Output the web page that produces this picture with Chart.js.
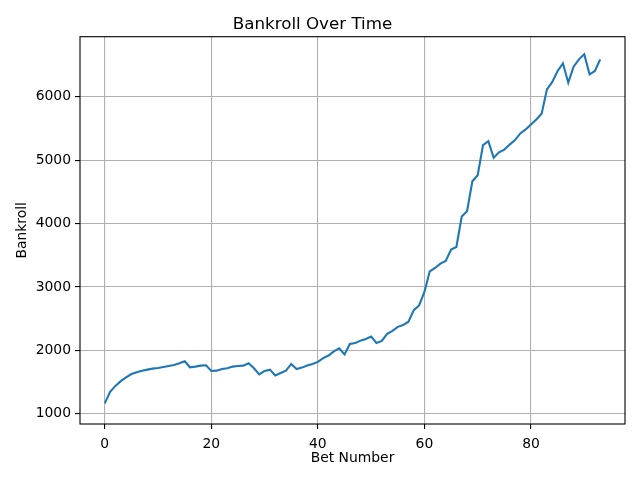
<!DOCTYPE html>
<html>
<head>
<meta charset="utf-8">
<script src="https://cdn.jsdelivr.net/npm/chart.js@4/dist/chart.umd.min.js"></script>
<style>
  html, body { margin: 0; padding: 0; background: #fff; }
</style>
</head>
<body>
<canvas id="bankrollChart" width="640" height="480"></canvas>
<script>
// values
var bankroll = [
  1165, 1346, 1441, 1516, 1574, 1628, 1654, 1681, 1697, 1713,
  1723, 1739, 1755, 1771, 1798, 1830, 1734, 1745, 1760, 1766,
  1676, 1681, 1707, 1718, 1745, 1755, 1760, 1798, 1718, 1622,
  1676, 1697, 1606, 1644, 1681, 1787, 1707, 1729, 1761, 1787,
  1819, 1878, 1920, 1984, 2032, 1936, 2101, 2117, 2154, 2181,
  2218, 2117, 2149, 2261, 2309, 2372, 2399, 2452, 2635, 2709,
  2921, 3247, 3300, 3368, 3410, 3590, 3631, 4110, 4195, 4668,
  4763, 5237, 5300, 5037, 5124, 5166, 5245, 5316, 5421, 5484,
  5563, 5642, 5732, 6116, 6232, 6405, 6526, 6221, 6474, 6589,
  6668, 6353, 6405, 6589
];
var xTicks = [0, 20, 40, 60, 80];
var yTicks = [1000, 2000, 3000, 4000, 5000, 6000];

var points = bankroll.map(function (v, i) { return { x: i, y: v }; });

var frame = {
  id: 'frame',
  afterDatasetsDraw: function (chart) {
    var a = chart.chartArea, c = chart.ctx;
    c.save();
    c.strokeStyle = '#000';
    c.lineWidth = 1.1;
    c.strokeRect(a.left, a.top, a.right - a.left, a.bottom - a.top);
    c.restore();
  }
};

var font = { family: 'DejaVu Sans', size: 13.9 };

var ctx = document.getElementById('bankrollChart').getContext('2d');
var chart = new Chart(ctx, {
  type: 'line',
  data: {
    datasets: [{
      data: points,
      borderColor: '#1f77b4',
      borderWidth: 2.1,
      pointRadius: 0,
      tension: 0,
      fill: false
    }]
  },
  options: {
    responsive: false,
    animation: false,
    devicePixelRatio: 1,
    layout: { padding: { left: 0, right: 15, top: 0, bottom: 0 } },
    plugins: {
      legend: { display: false },
      tooltip: { enabled: false },
      title: {
        display: true,
        text: 'Bankroll Over Time',
        color: '#000',
        font: { family: 'DejaVu Sans', size: 16.7, weight: 'normal', lineHeight: 1 },
        padding: { top: 16, bottom: 4 }
      }
    },
    scales: {
      x: {
        type: 'linear',
        min: -4.65,
        max: 97.65,
        afterBuildTicks: function (s) { s.ticks = xTicks.map(function (v) { return { value: v }; }); },
        afterFit: function (s) { s.height = 56; },
        grid: { color: '#b0b0b0', lineWidth: 1.1, tickColor: '#000', tickLength: 5, drawTicks: true },
        border: { display: false },
        ticks: { color: '#000', font: font, padding: 7, maxRotation: 0,
                 callback: function (v) { return String(v); } },
        title: { display: true, text: 'Bet Number', color: '#000', font: font, padding: { top: 4, bottom: 13 } }
      },
      y: {
        type: 'linear',
        min: 840,
        max: 6946,
        afterBuildTicks: function (s) { s.ticks = yTicks.map(function (v) { return { value: v }; }); },
        afterFit: function (s) { s.width = 80; },
        grid: { color: '#b0b0b0', lineWidth: 1.1, tickColor: '#000', tickLength: 5, drawTicks: true },
        border: { display: false },
        ticks: { color: '#000', font: font, padding: 4,
                 callback: function (v) { return String(v); } },
        title: { display: true, text: 'Bankroll', color: '#000', font: font, padding: { top: 14, bottom: 4 } }
      }
    }
  },
  plugins: [frame]
});
</script>
</body>
</html>
